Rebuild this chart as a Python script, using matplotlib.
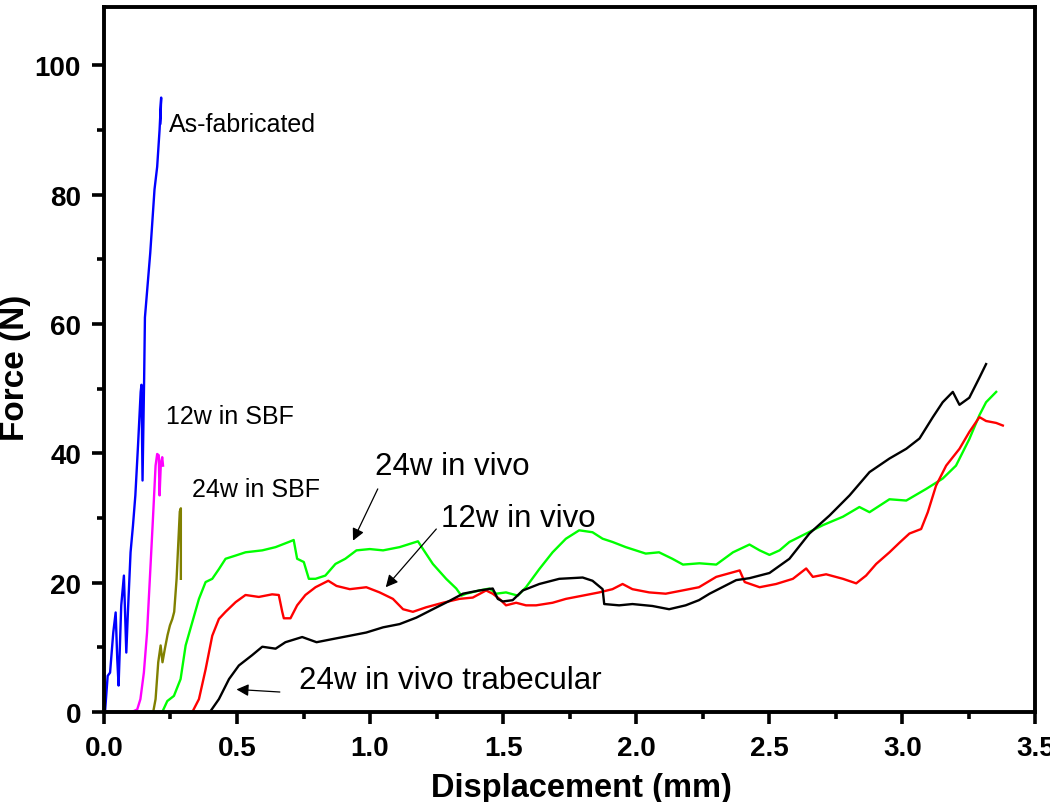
import matplotlib.pyplot as plt
from matplotlib.ticker import MultipleLocator

# As-fabricated
x_asfab = [0.0, 0.004, 0.014, 0.023, 0.035, 0.044, 0.05, 0.055, 0.065, 0.075, 0.084, 0.09, 0.1, 0.109,
           0.118, 0.128, 0.138, 0.141, 0.145, 0.151, 0.154, 0.174, 0.19, 0.2, 0.209, 0.215, 0.212]
y_asfab = [0.0, 0.0, 5.6, 6.1, 12.3, 15.4, 8.2, 4.1, 16.5, 21.1, 9.2, 15.4, 24.7, 28.8,
           33.5, 41.2, 49.5, 50.6, 35.8, 51.5, 61.0, 71.0, 80.8, 84.3, 90.0, 95.0, 91.0]

# 12w in SBF
x_12sbf = [0.0, 0.104, 0.125, 0.137, 0.15, 0.162, 0.175, 0.184, 0.194, 0.2, 0.206, 0.209, 0.214, 0.219, 0.222]
y_12sbf = [0.0, 0.0, 0.4, 2.0, 6.1, 12.3, 22.6, 29.8, 38.1, 39.9, 39.7, 33.5, 38.6, 39.4, 38.1]

# 24w in SBF
x_24sbf = [0.0, 0.185, 0.194, 0.204, 0.213, 0.22, 0.229, 0.239, 0.248, 0.257, 0.264, 0.273, 0.279,
           0.285, 0.289, 0.289]
y_24sbf = [0.0, 0.0, 2.0, 7.7, 10.3, 7.7, 9.8, 11.9, 13.4, 14.4, 15.5, 20.6, 25.8, 31.0, 31.5, 20.6]

# 24w in vivo
x_24vivo = [0.0, 0.219, 0.238, 0.263, 0.288, 0.307, 0.332, 0.357, 0.382, 0.407, 0.432, 0.457, 0.495,
            0.532, 0.595, 0.645, 0.695, 0.713, 0.726, 0.751, 0.77, 0.795, 0.832, 0.87, 0.907, 0.949,
            0.999, 1.049, 1.111, 1.18, 1.199, 1.236, 1.286, 1.324, 1.343, 1.361, 1.411, 1.449, 1.474,
            1.511, 1.555, 1.586, 1.636, 1.686, 1.736, 1.786, 1.836, 1.874, 1.911, 1.961, 2.036, 2.086,
            2.136, 2.176, 2.238, 2.301, 2.364, 2.426, 2.464, 2.501, 2.539, 2.576, 2.639, 2.702, 2.777,
            2.839, 2.877, 2.952, 3.015, 3.09, 3.152, 3.202, 3.252, 3.29, 3.315, 3.353]
y_24vivo = [0.0, 0.0, 1.7, 2.5, 5.1, 10.3, 13.9, 17.5, 20.1, 20.6, 22.1, 23.7, 24.2,
            24.7, 25.0, 25.5, 26.3, 26.6, 23.7, 23.2, 20.6, 20.6, 21.1, 22.9, 23.7, 25.0,
            25.2, 25.0, 25.5, 26.4, 25.2, 22.9, 20.6, 19.1, 18.0, 18.3, 18.8, 19.1, 18.3,
            18.5, 18.0, 19.3, 22.1, 24.7, 26.8, 28.1, 27.8, 26.8, 26.3, 25.5, 24.5, 24.7,
            23.7, 22.8, 23.0, 22.8, 24.7, 25.9, 25.0, 24.3, 25.0, 26.3, 27.6, 28.9, 30.2,
            31.7, 30.9, 32.9, 32.7, 34.5, 36.1, 38.1, 42.2, 45.9, 47.9, 49.5]

# 12w in vivo
x_12vivo = [0.29, 0.332, 0.357, 0.382, 0.407, 0.432, 0.457, 0.495, 0.532, 0.582, 0.632, 0.657, 0.67,
            0.676, 0.701, 0.726, 0.757, 0.795, 0.843, 0.874, 0.924, 0.986, 1.036, 1.086, 1.124, 1.161,
            1.211, 1.274, 1.336, 1.386, 1.436, 1.461, 1.486, 1.511, 1.549, 1.586, 1.624, 1.686, 1.736,
            1.799, 1.861, 1.911, 1.949, 1.986, 2.049, 2.111, 2.174, 2.236, 2.301, 2.389, 2.408, 2.464,
            2.526, 2.589, 2.639, 2.664, 2.714, 2.777, 2.827, 2.864, 2.902, 2.952, 2.99, 3.027, 3.071,
            3.096, 3.127, 3.165, 3.215, 3.252, 3.29, 3.315, 3.353, 3.378]
y_12vivo = [0.0, 0.0, 2.0, 6.6, 11.8, 14.4, 15.5, 17.0, 18.1, 17.8, 18.2, 18.1, 15.5,
            14.5, 14.5, 16.5, 18.1, 19.3, 20.3, 19.5, 19.0, 19.3, 18.5, 17.5, 15.9, 15.5,
            16.2, 16.9, 17.5, 17.7, 18.8, 18.3, 17.5, 16.5, 16.9, 16.5, 16.5, 16.9, 17.5,
            18.0, 18.5, 19.0, 19.8, 19.0, 18.5, 18.3, 18.8, 19.3, 20.9, 21.9, 20.1, 19.3,
            19.8, 20.6, 22.2, 20.9, 21.3, 20.6, 19.9, 21.1, 22.9, 24.7, 26.2, 27.6, 28.3,
            30.9, 35.0, 38.1, 40.7, 43.3, 45.6, 45.0, 44.7, 44.3]

# 24w in vivo trabecular
x_trab = [0.398, 0.432, 0.47, 0.507, 0.557, 0.595, 0.645, 0.682, 0.745, 0.799, 0.861, 0.924, 0.986,
          1.049, 1.111, 1.174, 1.236, 1.299, 1.349, 1.411, 1.461, 1.48, 1.499, 1.536, 1.574, 1.636,
          1.711, 1.799, 1.836, 1.874, 1.88, 1.936, 1.986, 2.061, 2.124, 2.186, 2.236, 2.276, 2.376,
          2.426, 2.501, 2.576, 2.651, 2.727, 2.802, 2.877, 2.952, 3.015, 3.065, 3.115, 3.152, 3.19,
          3.215, 3.252, 3.29, 3.315]
y_trab = [0.0, 2.0, 5.1, 7.2, 8.8, 10.1, 9.8, 10.8, 11.6, 10.8, 11.3, 11.8, 12.3,
          13.1, 13.6, 14.6, 15.9, 17.2, 18.3, 18.8, 19.1, 17.5, 17.1, 17.3, 18.8, 19.8,
          20.6, 20.8, 20.3, 19.0, 16.7, 16.5, 16.7, 16.4, 15.9, 16.5, 17.3, 18.3, 20.4,
          20.7, 21.5, 23.7, 27.6, 30.4, 33.5, 37.1, 39.2, 40.7, 42.3, 45.6, 47.9, 49.5,
          47.5, 48.6, 51.7, 53.8]

x_ticks = [0, 0.5, 1, 1.5, 2, 2.5, 3, 3.5]
x_ticklabels = ['0.0', '0.5', '1.0', '1.5', '2.0', '2.5', '3.0', '3.5']

plt.rcParams['font.family'] = ['Liberation Sans', 'DejaVu Sans']

fig = plt.figure(figsize=(10.5, 8.03), dpi=100)
ax = fig.add_axes([0.099, 0.112, 0.887, 0.878])

lw = 1.7
ax.plot(x_asfab, y_asfab, color='#0000ff', lw=lw)
ax.plot(x_12sbf, y_12sbf, color='#ff00ff', lw=lw)
ax.plot(x_24sbf, y_24sbf, color='#808000', lw=lw)
ax.plot(x_24vivo, y_24vivo, color='#00ff00', lw=lw)
ax.plot(x_12vivo, y_12vivo, color='#ff0000', lw=lw)
ax.plot(x_trab, y_trab, color='#000000', lw=lw)

ax.set_xlim(0, 3.5)
ax.set_ylim(0, 109)
ax.set_xticks(x_ticks)
ax.set_xticklabels(x_ticklabels)
ax.xaxis.set_minor_locator(MultipleLocator(0.25))
ax.yaxis.set_major_locator(MultipleLocator(20))
ax.yaxis.set_minor_locator(MultipleLocator(10))

for s in ax.spines.values():
    s.set_linewidth(2.8)
ax.tick_params(which='major', direction='out', length=8.5, width=2.6, top=False, right=False)
ax.tick_params(which='minor', direction='out', length=5, width=2.6, top=False, right=False)
ax.tick_params(axis='x', pad=8)
ax.tick_params(axis='y', pad=8)
for lab in ax.get_xticklabels() + ax.get_yticklabels():
    lab.set_fontweight('bold')
    lab.set_fontsize(20)

ax.set_xlabel('Displacement (mm)', fontweight='bold', fontsize=23.5)
ax.set_ylabel('Force (N)', fontweight='bold', fontsize=24)
ax.xaxis.set_label_coords(0.513, -0.085)
ax.yaxis.set_label_coords(-0.078, 0.49)

ax.text(0.244, 90.9, 'As-fabricated', fontsize=18, va='center')
ax.text(0.233, 45.8, '12w in SBF', fontsize=18, va='center')
ax.text(0.33, 34.5, '24w in SBF', fontsize=18, va='center')
ax.text(1.018, 38.1, '24w in vivo', fontsize=22.5, va='center')
ax.text(1.266, 30.0, '12w in vivo', fontsize=22.5, va='center')
ax.text(0.732, 4.95, '24w in vivo trabecular', fontsize=22.5, va='center')

arr = dict(arrowstyle='-|>', color='k', lw=0.9, mutation_scale=18, shrinkA=0, shrinkB=0)
ax.annotate('', xy=(0.936, 26.5), xytext=(1.029, 34.5), arrowprops=arr)
ax.annotate('', xy=(1.059, 19.3), xytext=(1.249, 28.3), arrowprops=arr)
ax.annotate('', xy=(0.498, 3.5), xytext=(0.661, 3.1), arrowprops=arr)

fig.savefig('out.png', dpi=100)
